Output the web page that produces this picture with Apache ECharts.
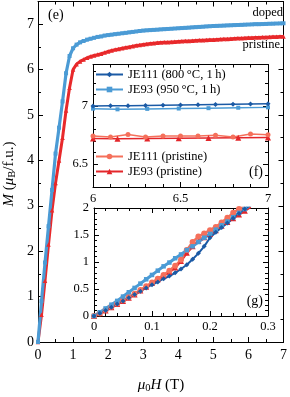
<!DOCTYPE html>
<html><head><meta charset="utf-8">
<script src="https://cdn.jsdelivr.net/npm/echarts@6/dist/echarts.min.js"></script>
<style>html,body{margin:0;padding:0;background:#fff}#c{width:290px;height:397px}</style>
</head><body><div id="c"></div>
<script>
// ---- main panel (e) ----
const fieldMain = [0,0.1,0.2,0.3,0.4,0.5,0.6,0.7,0.8,0.9,1.0,1.1,1.2,1.3,1.4,1.5,1.6,1.7,1.8,1.9,2.0,2.1,2.2,2.3,2.4,2.5,2.6,2.7,2.8,2.9,3.0,3.1,3.2,3.3,3.4,3.5,3.6,3.7,3.8,3.9,4.0,4.1,4.2,4.3,4.4,4.5,4.6,4.7,4.8,4.9,5.0,5.1,5.2,5.3,5.4,5.5,5.6,5.7,5.8,5.9,6.0,6.1,6.2,6.3,6.4,6.5,6.6,6.7,6.8,6.9,7.0];
const mainDoped = [0,0.90,1.75,2.55,3.35,4.15,4.72,5.30,5.92,6.30,6.47,6.55,6.60,6.63,6.66,6.68,6.70,6.72,6.73,6.75,6.76,6.77,6.78,6.79,6.80,6.81,6.82,6.83,6.84,6.85,6.86,6.865,6.87,6.875,6.88,6.885,6.89,6.895,6.90,6.905,6.91,6.915,6.92,6.925,6.93,6.935,6.94,6.945,6.95,6.955,6.96,6.963,6.966,6.97,6.973,6.976,6.98,6.983,6.986,6.99,6.993,6.996,7.0,7.0,7.003,7.006,7.01,7.012,7.015,7.017,7.02];
const mainPristine = [0,0.60,1.35,2.15,2.90,3.50,4.00,4.50,5.10,5.60,6.00,6.12,6.18,6.22,6.26,6.29,6.31,6.33,6.35,6.375,6.40,6.42,6.44,6.455,6.47,6.485,6.50,6.515,6.53,6.54,6.555,6.565,6.575,6.583,6.59,6.595,6.60,6.605,6.61,6.615,6.62,6.624,6.628,6.632,6.636,6.64,6.644,6.648,6.652,6.656,6.66,6.664,6.668,6.672,6.676,6.68,6.684,6.688,6.692,6.696,6.70,6.703,6.706,6.709,6.712,6.715,6.718,6.721,6.724,6.727,6.73];
const mainXTicks = ['0','1','2','3','4','5','6','7'];
const mainYTicks = ['0','1','2','3','4','5','6','7'];

// ---- inset (f) ----
const fieldF1 = [6.0,6.1,6.2,6.3,6.4,6.5,6.6,6.7,6.8,6.9,7.0];
const fieldF2 = [6.0,6.14,6.31,6.49,6.66,6.83,7.0];
const fJE111_800 = [7.0,7.002,7.004,7.006,7.008,7.01,7.012,7.014,7.016,7.018,7.02];
const fJE93_950 = [6.978,6.972,6.976,6.979,6.982,6.986,6.989];
const fJE111_pr = [6.741,6.732,6.755,6.732,6.741,6.741,6.741,6.747,6.732,6.758,6.752];
const fJE93_pr = [6.72,6.717,6.72,6.722,6.724,6.726,6.728];

// ---- inset (g) ----
const fieldG = [0,0.01,0.02,0.03,0.04,0.05,0.06,0.07,0.08,0.09,0.10,0.11,0.12,0.13,0.14,0.15,0.16,0.17,0.18,0.19,0.20,0.21,0.22,0.23,0.24,0.25,0.26,0.27];
const gJE111_800 = [0,0.05,0.10,0.16,0.22,0.28,0.34,0.40,0.46,0.52,0.58,0.63,0.69,0.74,0.80,0.87,0.95,1.05,1.16,1.29,1.45,1.55,1.64,1.72,1.81,1.90,1.98,2.06];
const gJE93_950 = [0,0.07,0.14,0.21,0.28,0.36,0.44,0.52,0.60,0.68,0.76,0.84,0.92,0.99,1.07,1.14,1.22,1.29,1.37,1.45,1.52,1.60,1.68,1.75,1.83,1.91,1.98,2.06];
const gJE111_pr = [0,0.05,0.11,0.17,0.23,0.29,0.35,0.41,0.48,0.55,0.62,0.69,0.76,0.84,0.93,1.04,1.22,1.37,1.47,1.53,1.59,1.65,1.73,1.82,1.91,1.98,2.05,2.12];
const gJE93_pr = [0,0.05,0.10,0.16,0.22,0.28,0.34,0.40,0.47,0.54,0.61,0.68,0.75,0.82,0.90,1.02,1.17,1.29,1.39,1.46,1.52,1.59,1.67,1.74,1.81,1.88,1.95,2.02];

const names = ['JE111 (800\u2009\u00b0C, 1\u2009h)','JE93 (950\u2009\u00b0C, 1\u2009h)','JE111 (pristine)','JE93 (pristine)'];
const C = {dark:'#1b5aa5', light:'#4b9bd5', salmon:'#f5705b', red:'#e3262a', mainBlue:'#4b9bd5', mainRed:'#e8292b'};
const FONT = 'Liberation Serif';

function pairs(xs, ys){ return xs.map((x,i)=>[x, ys[i]]); }
function fmtNum(v){ return String(Math.round(v*1000)/1000); }

function axis(o){
  return {
    type:'value', gridIndex:o.grid, position:o.pos, min:o.min, max:o.max, interval:o.interval,
    z:o.z||0,
    axisLine:{show:o.line!==false, onZero:false, lineStyle:{color:'#000', width:1}},
    axisTick:Object.assign({show:true, inside:true, length:o.tl||5, lineStyle:{color:'#000', width:1}}, o.tickExtra||{}),
    minorTick:{show:!!o.minor, splitNumber:o.minor||2, length:o.ml||3, lineStyle:{color:'#000', width:1}},
    axisLabel:Object.assign({show:!!o.labels, color:'#000', fontFamily:FONT, fontSize:o.fs||14, margin:o.margin||5,
      formatter:o.fmt||fmtNum}, o.labelExtra||{}),
    splitLine:{show:false}, minorSplitLine:{show:false}
  };
}

const intLabel = v => (Math.abs(v-Math.round(v))<1e-6 ? String(Math.round(v)) : '');

const xAxes = [
  axis({grid:0,pos:'bottom',min:0,max:7,interval:1,minor:2,labels:true,margin:6,fs:14,fmt:intLabel}),
  axis({grid:0,pos:'top',min:0,max:7,interval:1,minor:2}),
  axis({grid:1,pos:'bottom',min:6,max:7,interval:0.5,minor:5,labels:true,fs:12.5,margin:5,z:6,tl:5,ml:3}),
  axis({grid:1,pos:'top',min:6,max:7,interval:0.5,minor:5,z:6,tl:5,ml:3}),
  axis({grid:2,pos:'bottom',min:0,max:0.3,interval:0.1,minor:5,labels:true,fs:12.5,margin:4,z:6,tl:5,ml:3}),
  axis({grid:2,pos:'top',min:0,max:0.3,interval:0.1,minor:5,z:6,tl:5,ml:3})
];
const yAxes = [
  axis({grid:0,pos:'left',min:0,max:7.5,interval:1,minor:2,labels:true,margin:4,fs:14,fmt:intLabel}),
  axis({grid:0,pos:'right',min:0,max:7.5,interval:1,minor:2}),
  axis({grid:1,pos:'left',min:6.3,max:7.36,interval:0.1,z:6,tl:3}),
  axis({grid:1,pos:'right',min:6.3,max:7.36,interval:0.1,z:6,tl:3}),
  axis({grid:1,pos:'left',min:6.3,max:7.36,z:6,tl:5,line:false,labels:true,fs:12.5,margin:5,
        tickExtra:{customValues:[6.5,7]}, labelExtra:{customValues:[6.5,7]}}),
  axis({grid:1,pos:'right',min:6.3,max:7.36,z:6,tl:5,line:false, tickExtra:{customValues:[6.5,7]}}),
  axis({grid:2,pos:'left',min:0,max:2,interval:0.5,minor:5,labels:true,fs:12.5,margin:5,z:6,tl:5,ml:3}),
  axis({grid:2,pos:'right',min:0,max:2,interval:0.5,minor:5,z:6,tl:5,ml:3})
];

function ser(name, data, xi, yi, color, symbol, size, lw, z){
  return {type:'line', name:name, data:data, xAxisIndex:xi, yAxisIndex:yi, z:z,
    symbol:symbol, symbolSize:size, showSymbol:true, animation:false,
    lineStyle:{color:color, width:lw}, itemStyle:{color:color, borderWidth:0}, emphasis:{disabled:true}};
}

const series = [
  ser('pristineMain', pairs(fieldMain, mainPristine), 0, 0, C.mainRed, 'triangle', 4.5, 3, 2),
  ser('dopedMain', pairs(fieldMain, mainDoped), 0, 0, C.mainBlue, 'rect', 4, 3.2, 2),
  ser(names[3], pairs(fieldF2, fJE93_pr), 2, 2, C.red, 'triangle', 6, 1.5, 7),
  ser(names[2], pairs(fieldF1, fJE111_pr), 2, 2, C.salmon, 'circle', 5, 1.5, 7),
  ser(names[1], pairs(fieldF2, fJE93_950), 2, 2, C.light, 'rect', 4, 1.5, 7),
  ser(names[0], pairs(fieldF1, fJE111_800), 2, 2, C.dark, 'diamond', 5, 1.5, 7),
  ser(names[3]+' g', pairs(fieldG, gJE93_pr), 4, 6, C.red, 'triangle', 6, 2.5, 7),
  ser(names[2]+' g', pairs(fieldG, gJE111_pr), 4, 6, C.salmon, 'circle', 6, 2.5, 7),
  ser(names[1]+' g', pairs(fieldG, gJE93_950), 4, 6, C.light, 'rect', 4.5, 3, 7),
  ser(names[0]+' g', pairs(fieldG, gJE111_800), 4, 6, C.dark, 'diamond', 5, 2, 7)
];

const legendText = {color:'#000', fontFamily:FONT, fontSize:12.5};
const chart = echarts.init(document.getElementById('c'), null, {renderer:'canvas'});
chart.setOption({
  animation:false,
  backgroundColor:'#fff',
  grid:[
    {left:38, top:1.5, width:248.5, height:340.5, show:false, z:0},
    {left:93, top:64.5, width:175, height:122.5, show:true, backgroundColor:'#fff', borderWidth:0, z:5},
    {left:94, top:208, width:174, height:108, show:true, backgroundColor:'#fff', borderWidth:0, z:5}
  ],
  xAxis:xAxes, yAxis:yAxes, series:series,
  legend:[
    {data:[names[0],names[1]], orient:'vertical', left:95, top:68, itemWidth:27, itemHeight:7, itemGap:2, padding:0,
     textStyle:legendText, selectedMode:false, z:8},
    {data:[names[2],names[3]], orient:'vertical', left:95, top:150, itemWidth:27, itemHeight:7, itemGap:2, padding:0,
     textStyle:legendText, selectedMode:false, z:8}
  ],
  graphic:[
    {type:'text', x:48, y:15, z:9, style:{text:'(e)', font:'14px "Liberation Serif"', fill:'#000', textVerticalAlign:'middle'}},
    {type:'text', x:283, y:13, z:9, style:{text:'doped', font:'12.5px "Liberation Serif"', fill:'#000', textAlign:'right', textVerticalAlign:'middle'}},
    {type:'text', x:280, y:45, z:9, style:{text:'pristine', font:'12.5px "Liberation Serif"', fill:'#000', textAlign:'right', textVerticalAlign:'middle'}},
    {type:'text', x:263, y:172, z:9, style:{text:'(f)', font:'14px "Liberation Serif"', fill:'#000', textAlign:'right', textVerticalAlign:'middle'}},
    {type:'text', x:263, y:301, z:9, style:{text:'(g)', font:'14px "Liberation Serif"', fill:'#000', textAlign:'right', textVerticalAlign:'middle'}},
    {type:'text', x:161, y:385, z:9, style:{
      text:'{i|\u03bc}{s|0}{i|H} (T)', textAlign:'center', textVerticalAlign:'middle', fill:'#000',
      font:'15px "Liberation Serif"',
      rich:{i:{fontFamily:FONT, fontSize:15, fontStyle:'italic', fill:'#000'}, s:{fontFamily:FONT, fontSize:10.5, fill:'#000', padding:[7,0,0,0]}}
    }},
    {type:'text', x:9, y:174, rotation:Math.PI/2, z:9, style:{
      text:'{i|M} ({i|\u03bc}{s|B}/f.u.)', textAlign:'center', textVerticalAlign:'middle', fill:'#000',
      font:'15px "Liberation Serif"',
      rich:{i:{fontFamily:FONT, fontSize:15, fontStyle:'italic', fill:'#000'}, s:{fontFamily:FONT, fontSize:10.5, fill:'#000', padding:[7,0,0,0]}}
    }}
  ]
});
</script></body></html>
